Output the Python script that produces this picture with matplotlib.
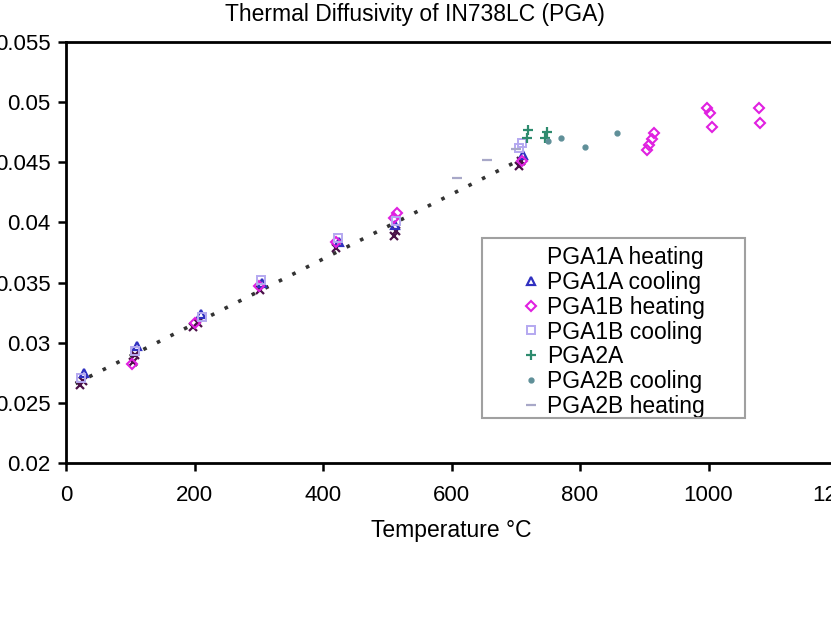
import matplotlib.pyplot as plt
from matplotlib.patches import Rectangle

plt.rcParams['font.family'] = ['Liberation Sans', 'DejaVu Sans']

# ---- data (temperature °C, diffusivity) ----
pga1a_heat_T = [22, 26, 104, 108, 197, 205, 302, 421, 510, 514, 705, 708]
pga1a_heat_a = [0.0265, 0.0268, 0.0284, 0.0290, 0.0313, 0.0316, 0.0344,
                0.0379, 0.0389, 0.0393, 0.0447, 0.0451]

pga1a_cool_T = [28, 110, 210, 305, 425, 512, 712]
pga1a_cool_a = [0.0275, 0.0297, 0.0324, 0.0350, 0.0384, 0.0398, 0.0456]

pga1b_heat_T = [102, 200, 300, 420, 510, 515, 710, 905, 908, 912, 915,
                998, 1003, 1005, 1078, 1080]
pga1b_heat_a = [0.0282, 0.0316, 0.0347, 0.0384, 0.0404, 0.0408, 0.0451,
                0.0460, 0.0464, 0.0469, 0.0474, 0.0495, 0.0491, 0.0479,
                0.0495, 0.0483]

pga1b_cool_T = [24, 107, 211, 304, 424, 513, 705, 710]
pga1b_cool_a = [0.0271, 0.0293, 0.0321, 0.0352, 0.0387, 0.0401, 0.0462, 0.0466]

pga2a_T = [717, 719, 746, 748]
pga2a_a = [0.0470, 0.0477, 0.0470, 0.0475]

pga2b_cool_T = [750, 771, 808, 857]
pga2b_cool_a = [0.0468, 0.0470, 0.0463, 0.0474]

pga2b_heat_T = [609, 656, 700]
pga2b_heat_a = [0.0437, 0.0452, 0.0461]

fit_T = [15, 710]
fit_a = [0.0266, 0.0453]

# ---- figure ----
W, H = 831, 633
fig = plt.figure(figsize=(W / 100, H / 100), dpi=100)
ax = fig.add_axes([66 / W, 1 - 463 / H, (837 - 66) / W, (463 - 42) / H])

ax.plot(fit_T, fit_a, color='#333333', lw=2.6, ls=(0, (1, 3.2)), zorder=1)

ax.plot(pga1a_heat_T, pga1a_heat_a, 'x', color='#4a1048', ms=5.5, mew=1.6,
        label='PGA1A heating')
ax.plot(pga1a_cool_T, pga1a_cool_a, '^', mfc='none', mec='#3030c0', ms=5.5,
        mew=1.6, label='PGA1A cooling')
ax.plot(pga1b_heat_T, pga1b_heat_a, 'D', mfc='none', mec='#e020e0', ms=5.5,
        mew=1.5, label='PGA1B heating')
ax.plot(pga1b_cool_T, pga1b_cool_a, 's', mfc='none', mec='#b4a8f0', ms=5.5,
        mew=1.4, label='PGA1B cooling')
ax.plot(pga2a_T, pga2a_a, '+', color='#2e8b6e', ms=7, mew=1.6, label='PGA2A')
ax.plot(pga2b_cool_T, pga2b_cool_a, 'o', color='#5f8f98', ms=3.5,
        label='PGA2B cooling')
ax.plot(pga2b_heat_T, pga2b_heat_a, '_', color='#a8a8c8', ms=7, mew=1.6,
        label='PGA2B heating')

ax.set_xlim(0, 1200)
ax.set_ylim(0.02, 0.055)
ax.set_xticks(range(0, 1201, 200))
ax.set_yticks([0.02, 0.025, 0.03, 0.035, 0.04, 0.045, 0.05, 0.055])
ax.set_yticklabels(['0.02', '0.025', '0.03', '0.035', '0.04', '0.045',
                    '0.05', '0.055'])
for s in ax.spines.values():
    s.set_linewidth(2)
ax.tick_params(axis='both', labelsize=16, width=1.8, length=6, direction='out')
ax.tick_params(axis='x', pad=10)
ax.tick_params(axis='y', pad=5)

ax.set_xlabel('Temperature °C', fontsize=16.5, labelpad=9)
fig.text(415 / W, 1 - 14 / H, 'Thermal Diffusivity of IN738LC (PGA)',
         ha='center', va='center', fontsize=16.5)

leg = ax.legend(loc='upper left', bbox_to_anchor=(522 / W, 1 - 246 / H),
                bbox_transform=fig.transFigure, frameon=False, fontsize=16.5,
                handlelength=0.8, handletextpad=0.3, labelspacing=0.08,
                borderpad=0, borderaxespad=0)
leg.legend_handles[0].set_visible(False)
fig.patches.append(Rectangle((482 / W, 1 - 418 / H), (745 - 482) / W,
                             (418 - 238) / H, transform=fig.transFigure,
                             fill=False, ec='#a0a0a0', lw=1.5))

fig.savefig('out.png', dpi=100)
